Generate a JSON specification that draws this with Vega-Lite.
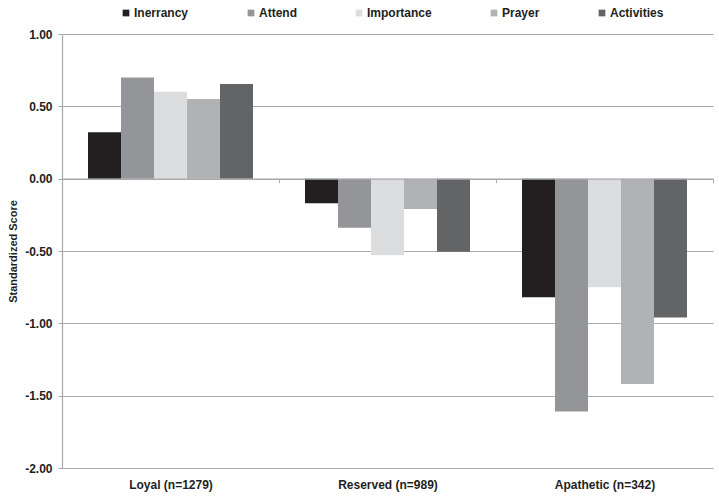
{
  "$schema": "https://vega.github.io/schema/vega-lite/v6.json",
  "width": 651,
  "height": 434,
  "autosize": "none",
  "padding": {"left": 62, "top": 34, "right": 6, "bottom": 34},
  "background": "white",
  "data": {
    "values": [
      {"group": "Loyal (n=1279)", "measure": "Inerrancy", "score": 0.32},
      {"group": "Loyal (n=1279)", "measure": "Attend", "score": 0.70},
      {"group": "Loyal (n=1279)", "measure": "Importance", "score": 0.60},
      {"group": "Loyal (n=1279)", "measure": "Prayer", "score": 0.55},
      {"group": "Loyal (n=1279)", "measure": "Activities", "score": 0.655},
      {"group": "Reserved (n=989)", "measure": "Inerrancy", "score": -0.17},
      {"group": "Reserved (n=989)", "measure": "Attend", "score": -0.34},
      {"group": "Reserved (n=989)", "measure": "Importance", "score": -0.53},
      {"group": "Reserved (n=989)", "measure": "Prayer", "score": -0.21},
      {"group": "Reserved (n=989)", "measure": "Activities", "score": -0.505},
      {"group": "Apathetic (n=342)", "measure": "Inerrancy", "score": -0.82},
      {"group": "Apathetic (n=342)", "measure": "Attend", "score": -1.61},
      {"group": "Apathetic (n=342)", "measure": "Importance", "score": -0.75},
      {"group": "Apathetic (n=342)", "measure": "Prayer", "score": -1.42},
      {"group": "Apathetic (n=342)", "measure": "Activities", "score": -0.96}
    ]
  },
  "mark": {"type": "bar"},
  "encoding": {
    "x": {
      "field": "group",
      "type": "nominal",
      "sort": ["Loyal (n=1279)", "Reserved (n=989)", "Apathetic (n=342)"],
      "scale": {"paddingInner": 0, "paddingOuter": 0},
      "axis": {
        "title": null,
        "labelAngle": 0,
        "offset": -289.33,
        "domain": true,
        "domainColor": "#a7a9ac",
        "domainWidth": 1.2,
        "ticks": true,
        "tickBand": "extent",
        "tickColor": "#a7a9ac",
        "tickSize": 4,
        "labelPadding": 297,
        "labelFont": "Liberation Sans",
        "labelFontWeight": "bold",
        "labelFontSize": 12,
        "labelColor": "#231f20",
        "grid": false,
        "zindex": 1
      }
    },
    "xOffset": {
      "field": "measure",
      "type": "nominal",
      "sort": ["Inerrancy", "Attend", "Importance", "Prayer", "Activities"],
      "scale": {"paddingInner": 0, "paddingOuter": 0.788}
    },
    "y": {
      "field": "score",
      "type": "quantitative",
      "scale": {"domain": [-2, 1], "nice": false, "zero": false},
      "axis": {
        "title": "Standardized Score",
        "titleFont": "Liberation Sans",
        "titleFontWeight": "bold",
        "titleFontSize": 11,
        "titleColor": "#231f20",
        "titlePadding": 6,
        "values": [-2, -1.5, -1, -0.5, 0, 0.5, 1],
        "format": ".2f",
        "labelExpr": "replace(datum.label, '\u2212', '-')",
        "labelFont": "Liberation Sans",
        "labelFontWeight": "bold",
        "labelFontSize": 12,
        "labelColor": "#231f20",
        "labelPadding": 6,
        "tickSize": 4,
        "tickColor": "#a7a9ac",
        "domainColor": "#a7a9ac",
        "domainWidth": 1.2,
        "grid": true,
        "gridColor": "#a7a9ac",
        "gridWidth": 1.2
      }
    },
    "color": {
      "field": "measure",
      "type": "nominal",
      "sort": ["Inerrancy", "Attend", "Importance", "Prayer", "Activities"],
      "scale": {
        "domain": ["Inerrancy", "Attend", "Importance", "Prayer", "Activities"],
        "range": ["#231f20", "#939598", "#dcdddf", "#b1b2b4", "#636466"]
      },
      "legend": {
        "title": null,
        "orient": "none",
        "direction": "horizontal",
        "legendX": 58,
        "legendY": -27,
        "symbolType": "square",
        "symbolSize": 45,
        "symbolStrokeWidth": 0,
        "labelFont": "Liberation Sans",
        "labelFontWeight": "bold",
        "labelFontSize": 12,
        "labelColor": "#231f20",
        "labelOffset": 2,
        "columnPadding": 56,
        "padding": 0
      }
    }
  },
  "config": {
    "view": {"stroke": null}
  }
}
